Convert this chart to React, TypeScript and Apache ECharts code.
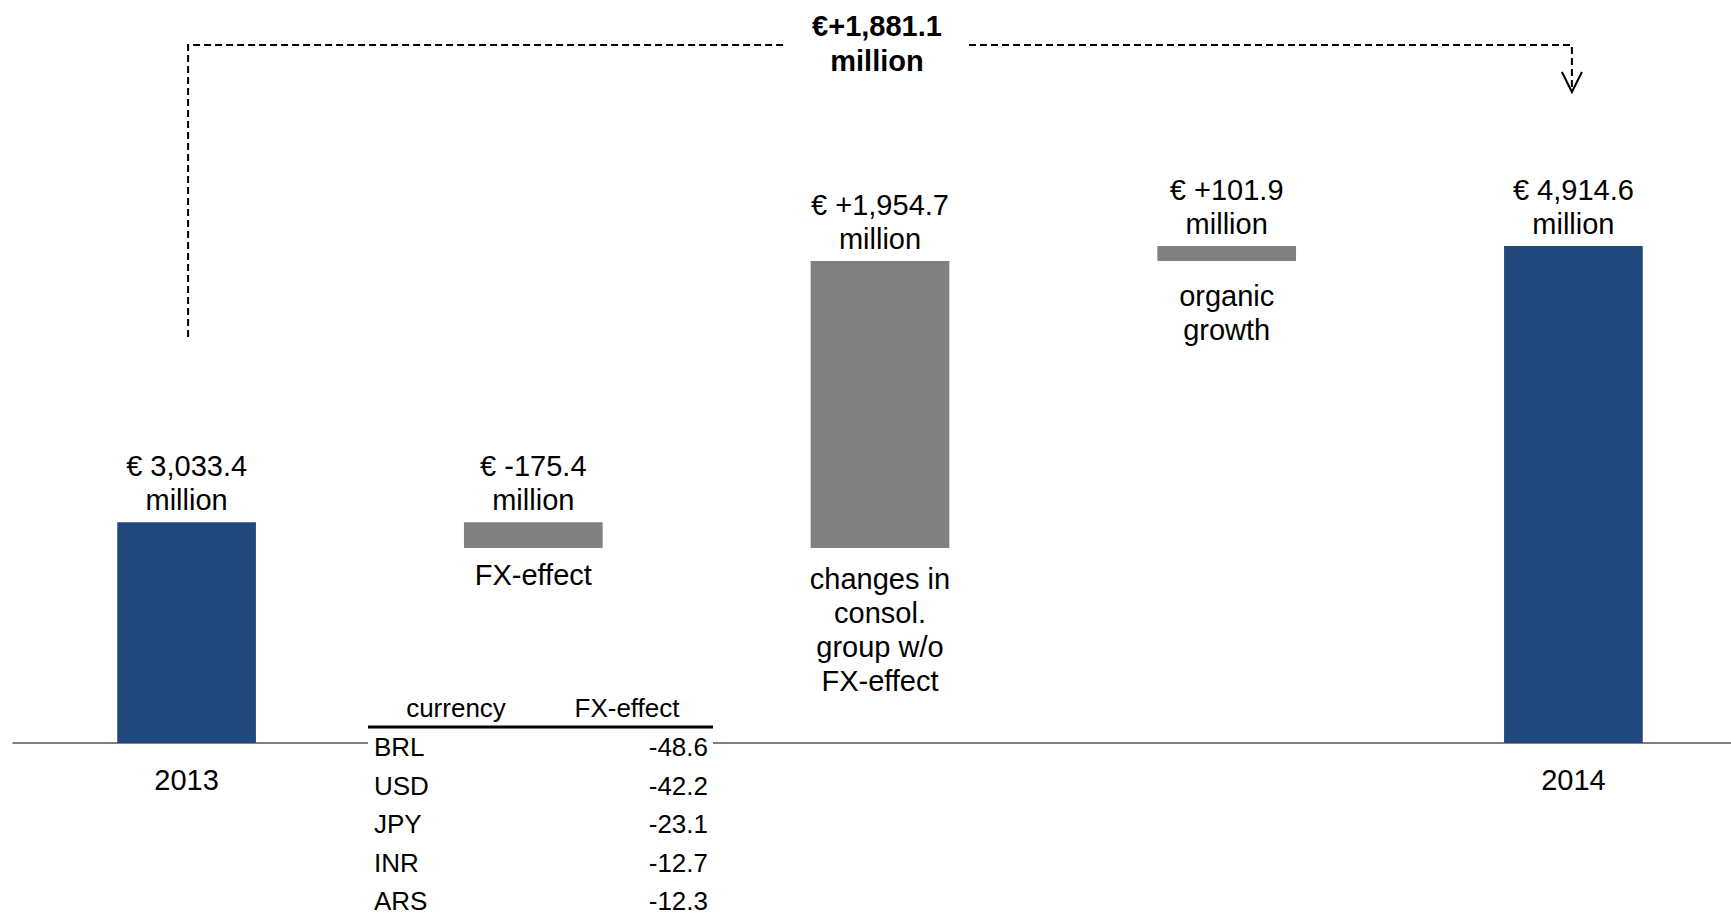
import React, { useEffect, useRef } from "react";
import * as echarts from "echarts";

// ---- data ----
const categories = ["2013", "FX-effect", "changes in consol. group w/o FX-effect", "organic growth", "2014"];
const startValue = 3033.4;
const deltas = [-175.4, 1954.7, 101.9];
const endValue = 4914.6;
const deltaNames = ["FX-effect", "changes in\nconsol.\ngroup w/o\nFX-effect", "organic\ngrowth"];
const totalChange = 1881.1;
const currencies = ["BRL", "USD", "JPY", "INR", "ARS"];
const fxEffects = [-48.6, -42.2, -23.1, -12.7, -12.3];
const tableHeaders = ["currency", "FX-effect"];

const BLUE = "#1F497D";
const GREY = "#808080";
const FONT = "'Liberation Sans', Arial, sans-serif";

const fmt = (v: number) =>
  Math.abs(v).toLocaleString("en-US", { minimumFractionDigits: 1, maximumFractionDigits: 1 });

export default function App() {
  const ref = useRef<HTMLDivElement>(null);
  useEffect(() => {
    if (!ref.current) return;
    const chart = echarts.init(ref.current, undefined, { renderer: "svg" });

    // waterfall bases
    const baseData: number[] = [0];
    const visData: number[] = [startValue];
    const labels: string[] = [`€ ${fmt(startValue)}\nmillion`];
    let level = startValue;
    deltas.forEach((d) => {
      baseData.push(d < 0 ? level + d : level);
      visData.push(Math.abs(d));
      labels.push(`€ ${d < 0 ? "-" : "+"}${fmt(d)}\nmillion`);
      level += d;
    });
    baseData.push(0);
    visData.push(endValue);
    labels.push(`€ ${fmt(endValue)}\nmillion`);

    const bottomDist = [10, 14, 18];

    const textStyleBase = { fontFamily: FONT, fontSize: 29, lineHeight: 34, color: "#000" };

    chart.setOption({
      animation: false,
      grid: {
        left: 13.25,
        width: 1733.5,
        top: 50,
        bottom: 175,
        containLabel: false,
        outerBoundsMode: "none",
      },
      xAxis: {
        type: "category",
        data: categories,
        axisTick: { show: false },
        axisLine: { show: true, lineStyle: { color: GREY, width: 2 } },
        axisLabel: {
          interval: 0,
          margin: 20,
          ...textStyleBase,
          formatter: (v: string, i: number) => (i === 0 || i === categories.length - 1 ? v : ""),
        },
      },
      yAxis: { type: "value", min: 1530, max: 6250, show: false, splitLine: { show: false } },
      series: [
        {
          type: "bar",
          stack: "wf",
          silent: true,
          barWidth: "40%",
          itemStyle: { color: "transparent" },
          data: baseData.map((v, i) => {
            if (i >= 1 && i <= deltas.length) {
              return {
                value: v,
                label: {
                  show: true,
                  position: "insideTop",
                  distance: bottomDist[i - 1],
                  formatter: deltaNames[i - 1],
                  ...textStyleBase,
                },
              };
            }
            return v;
          }),
        },
        {
          type: "bar",
          stack: "wf",
          silent: true,
          barWidth: "40%",
          data: visData.map((v, i) => ({
            value: v,
            itemStyle: { color: i === 0 || i === visData.length - 1 ? BLUE : GREY },
          })),
          label: {
            show: true,
            position: "top",
            distance: 5,
            ...textStyleBase,
            formatter: (p: any) => labels[p.dataIndex],
          },
        },
      ],
    });

    // annotations
    const x0 = chart.convertToPixel({ xAxisIndex: 0 }, 0) as number;
    const x4 = chart.convertToPixel({ xAxisIndex: 0 }, 4) as number;
    const lineY = 45;
    const dashStyle = { stroke: "#000", lineWidth: 2, lineDash: [7, 4], fill: null };
    const midX = 877;

    const tableLeft = 368;
    const tableRight = 713;
    const rowY0 = 747;
    const rowStep = 38.6;

    const graphic: any[] = [
      {
        type: "polyline",
        z: 100,
        shape: { points: [[x0 + 1.5, 337], [x0 + 1.5, lineY], [784, lineY]] },
        style: dashStyle,
      },
      {
        type: "polyline",
        z: 100,
        shape: { points: [[969, lineY], [x4 - 1.5, lineY], [x4 - 1.5, 91]] },
        style: dashStyle,
      },
      {
        type: "polyline",
        z: 100,
        shape: { points: [[x4 - 11.5, 72], [x4 - 1.5, 92], [x4 + 8.5, 72]] },
        style: { stroke: "#000", lineWidth: 2, fill: null },
      },
      {
        type: "text",
        z: 100,
        x: midX,
        y: 43.5,
        style: {
          text: `€+${fmt(totalChange)}\nmillion`,
          font: `bold 29px ${FONT}`,
          lineHeight: 35,
          fill: "#000",
          align: "center",
          verticalAlign: "middle",
        },
      },
      // table
      {
        type: "rect",
        z: 100,
        shape: { x: tableLeft, y: 738, width: tableRight - tableLeft, height: 180 },
        style: { fill: "#fff" },
      },
      {
        type: "line",
        z: 101,
        shape: { x1: tableLeft, y1: 727, x2: tableRight, y2: 727 },
        style: { stroke: "#000", lineWidth: 3 },
      },
      {
        type: "text",
        z: 101,
        x: 456,
        y: 708,
        style: { text: tableHeaders[0], font: `26px ${FONT}`, fill: "#000", align: "center", verticalAlign: "middle" },
      },
      {
        type: "text",
        z: 101,
        x: 627,
        y: 708,
        style: { text: tableHeaders[1], font: `26px ${FONT}`, fill: "#000", align: "center", verticalAlign: "middle" },
      },
    ];
    currencies.forEach((c, i) => {
      graphic.push({
        type: "text",
        z: 101,
        x: 374,
        y: rowY0 + i * rowStep,
        style: { text: c, font: `26px ${FONT}`, fill: "#000", align: "left", verticalAlign: "middle" },
      });
      graphic.push({
        type: "text",
        z: 101,
        x: 708,
        y: rowY0 + i * rowStep,
        style: {
          text: fxEffects[i].toFixed(1),
          font: `26px ${FONT}`,
          fill: "#000",
          align: "right",
          verticalAlign: "middle",
        },
      });
    });

    chart.setOption({ graphic });

    return () => chart.dispose();
  }, []);

  return (
    <div
      ref={ref}
      style={{ position: "fixed", left: 0, top: 0, width: 1760, height: 918, background: "#fff" }}
    />
  );
}
